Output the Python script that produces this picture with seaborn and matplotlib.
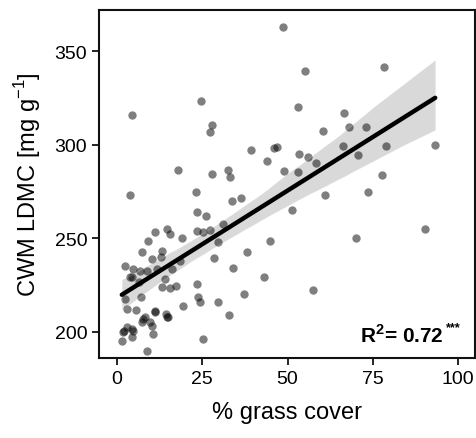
import matplotlib
matplotlib.use('Agg')
import matplotlib.pyplot as plt
import pandas as pd
import seaborn as sns

# values
grass = [
    48.8, 78.3, 55.1, 24.5, 4.5, 53.0, 66.7, 27.9, 27.3, 60.3,
    68.0, 72.9, 93.3, 78.9, 66.4, 70.8, 39.3, 46.8, 46.1, 43.9,
    53.4, 56.1, 58.4, 17.8, 27.9, 32.5, 33.1, 49.0, 53.0, 77.8,
    3.8, 23.2, 61.0, 73.5, 33.6, 36.3, 90.3, 70.0, 51.2, 31.2,
    44.9, 38.0, 23.4, 26.1, 11.1, 14.6, 15.5, 19.0, 23.4, 25.3,
    27.3, 9.2, 7.2, 10.2, 13.1, 12.9, 29.7, 2.3, 4.3, 4.8,
    6.7, 8.7, 11.6, 16.0, 18.5, 14.1, 13.1, 15.5, 17.3, 28.5,
    33.9, 43.2, 57.6, 23.4, 23.8, 24.3, 37.2, 29.7, 32.9, 19.4,
    2.3, 2.8, 5.6, 6.9, 11.1, 14.4, 15.0, 8.2, 9.7, 10.2,
    4.8, 4.3, 1.8, 1.4, 7.2, 10.5, 8.7, 25.3, 2.8,
    4.5, 6.3, 11.1, 7.7, 1.9, 14.6, 3.8,
]
ldmc = [
    363.0, 341.5, 339.2, 323.5, 316.0, 320.3, 316.9, 310.7, 306.6, 307.2,
    309.6, 309.6, 299.8, 299.1, 299.5, 294.5, 297.2, 298.9, 298.0, 291.5,
    295.0, 293.6, 290.2, 286.7, 284.4, 286.7, 282.6, 285.8, 285.3, 284.0,
    273.3, 274.6, 273.3, 274.6, 270.1, 271.4, 255.0, 250.2, 265.1, 257.7,
    248.7, 242.5, 263.9, 262.1, 253.6, 255.0, 252.3, 250.0, 254.1, 253.2,
    254.6, 248.7, 242.5, 239.0, 243.4, 239.8, 247.9, 235.1, 229.2, 233.6,
    232.7, 232.7, 233.6, 233.6, 238.1, 228.3, 223.9, 223.3, 224.7, 239.5,
    234.0, 229.2, 222.6, 225.6, 218.5, 215.9, 220.3, 216.2, 209.2, 213.7,
    217.6, 212.3, 211.9, 218.5, 210.8, 209.6, 207.8, 207.8, 205.2, 203.4,
    200.7, 197.2, 199.8, 195.4, 205.2, 198.9, 190.0, 196.3, 202.5,
    201.6, 226.5, 211.4, 207.0, 200.7, 207.8, 229.2,
]
x_ticks = [0, 25, 50, 75, 100]
y_ticks = [200, 250, 300, 350]

df = pd.DataFrame({'grass': grass, 'ldmc': ldmc})

sns.set_style('ticks')
plt.rcParams['font.family'] = ['Liberation Sans', 'DejaVu Sans']
plt.rcParams['mathtext.fontset'] = 'custom'
plt.rcParams['mathtext.rm'] = 'Liberation Sans'
plt.rcParams['mathtext.bf'] = 'Liberation Sans:bold'
plt.rcParams['text.color'] = 'black'
plt.rcParams['axes.labelcolor'] = 'black'
plt.rcParams['xtick.color'] = 'black'
plt.rcParams['ytick.color'] = 'black'

fig = plt.figure(figsize=(4.77, 4.39), dpi=100)
ax = fig.add_axes([0.2075, 0.182, 0.7885, 0.793])

sns.regplot(data=df, x='grass', y='ldmc', ax=ax, color='black', ci=95,
            scatter_kws={'s': 36, 'alpha': 0.5, 'linewidths': 0},
            line_kws={'lw': 3.2})

ax.set_xlim(-5.3, 105)
ax.set_ylim(186, 372)
ax.set_xticks(x_ticks)
ax.set_yticks(y_ticks)
ax.tick_params(labelsize=14, length=5, width=1.2)
for s in ax.spines.values():
    s.set_visible(True)
    s.set_linewidth(1.5)
    s.set_color('#111111')
ax.set_xlabel('% grass cover', fontsize=17, labelpad=10)
ax.set_ylabel('CWM LDMC [mg g$^{-1}$]', fontsize=17, labelpad=8)

r2 = ax.text(0.693, 0.048, r'R$^{\mathbf{2}}$= 0.72', transform=ax.transAxes,
             ha='left', va='baseline', fontsize=15, fontweight='bold')
ax.annotate('***', xy=(1, 0.55), xycoords=r2, xytext=(2, 0),
            textcoords='offset points', ha='left', va='bottom',
            fontsize=9, fontweight='bold')

fig.savefig('out.png', dpi=100)
